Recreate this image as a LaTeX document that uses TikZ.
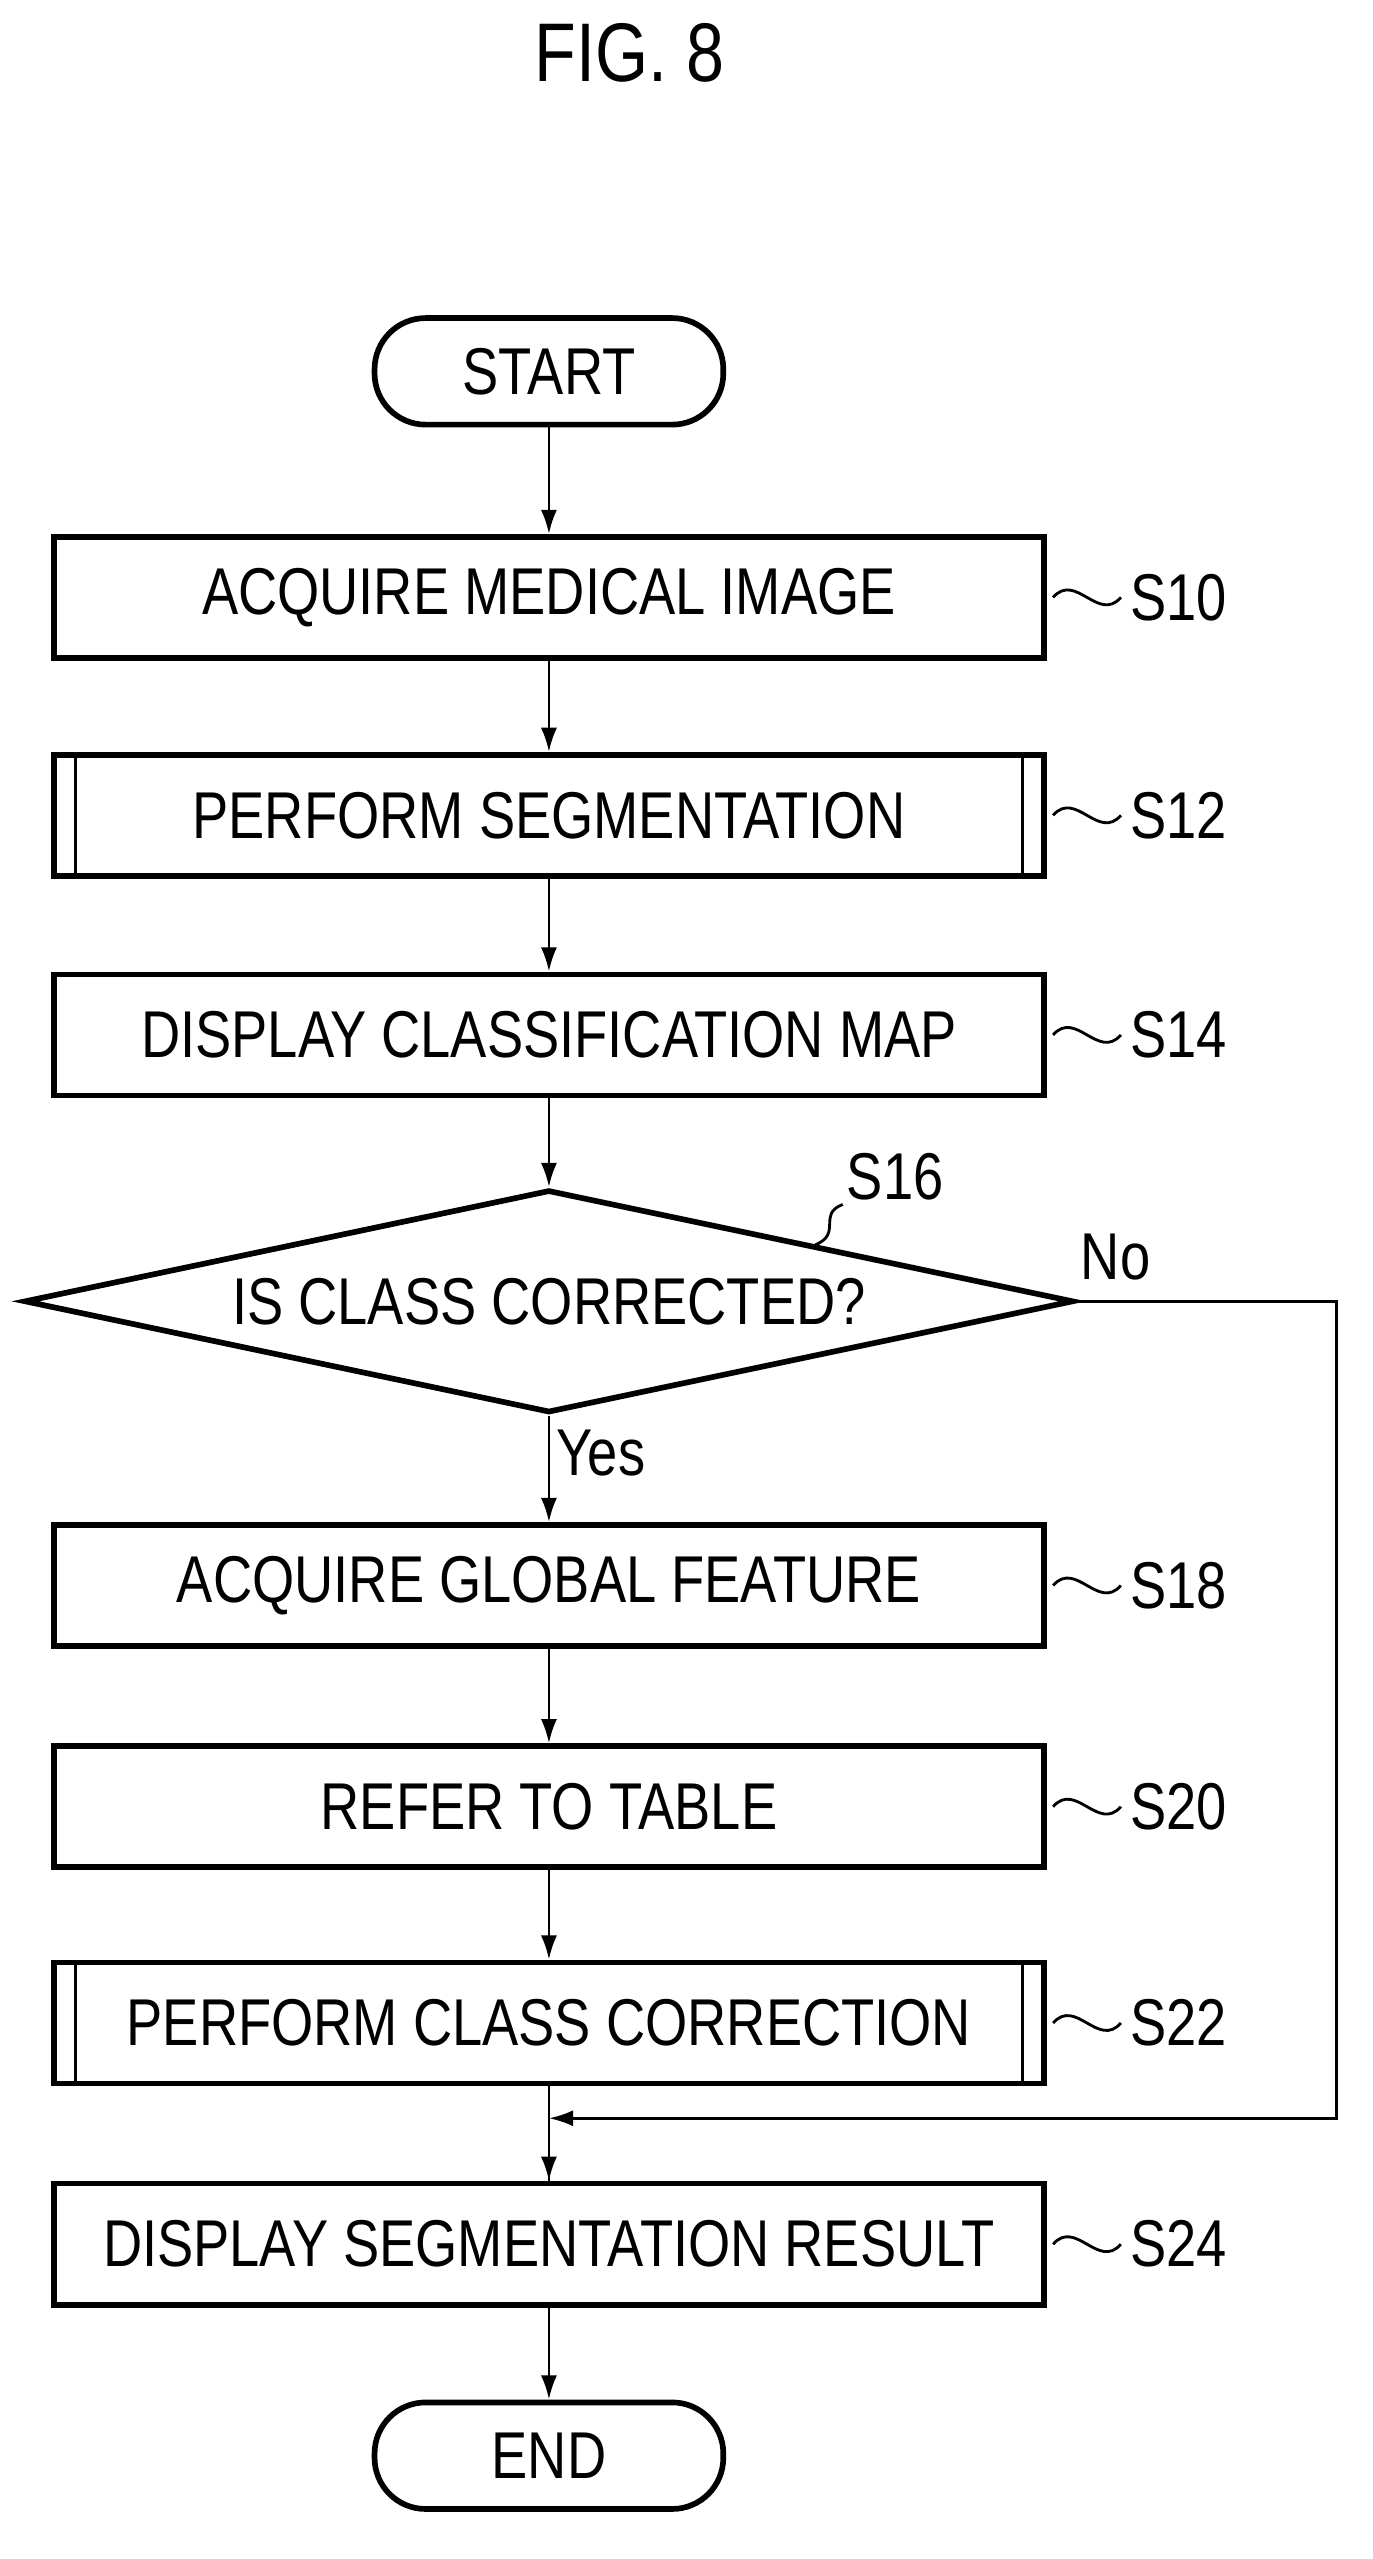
\documentclass[tikz,border=0pt]{standalone}
\usepackage{fontspec}
\setmainfont{Liberation Sans}[FakeStretch=0.82]
\usetikzlibrary{shapes,calc,arrows.meta}
\tikzset{
  box/.style={draw,line width=3pt,minimum width=18.39cm,minimum height=2.25cm,inner sep=0pt},
  term/.style={draw,line width=3pt,rounded corners=0.95cm,minimum width=6.48cm,minimum height=1.98cm},
  flow/.style={line width=1.5pt,-{Latex[length=0.45cm,width=0.3cm]}},
  lbl/.style={font=\fontsize{35}{39}\selectfont}
}
\newcommand{\sqig}[1]{\draw[line width=1.5pt] ($(#1.east)+(4,0)$) .. controls +(14,-16) and +(-14,16) .. ++(42,0) node[right,lbl,inner sep=0.15cm]}
\begin{document}
\begin{tikzpicture}[x=0.03cm,y=-0.03cm,lbl]
\useasboundingbox (0,0) rectangle (850,1585);
%title
\node[font=\fontsize{44}{48}\selectfont] (fig) at (390,33) {FIG. 8};
%steps
\node[term] (start) at (340,230) {START};
\node[box] (s10) at (340,370) {ACQUIRE MEDICAL IMAGE};
\node[box] (s12) at (340,505) {PERFORM SEGMENTATION};
\node[box] (s14) at (340,641) {DISPLAY CLASSIFICATION MAP};
\node[draw,line width=3pt,diamond,aspect=4.7,minimum width=19.5cm,minimum height=4.14cm,inner sep=0pt] (s16) at (340,806) {IS CLASS CORRECTED?};
\node[box] (s18) at (340,982) {ACQUIRE GLOBAL FEATURE};
\node[box] (s20) at (340,1119) {REFER TO TABLE};
\node[box] (s22) at (340,1253) {PERFORM CLASS CORRECTION};
\node[box] (s24) at (340,1390) {DISPLAY SEGMENTATION RESULT};
\node[term] (end) at (340,1521) {END};
%subroutine bars
\foreach \n in {s12,s22}
{
\draw[line width=1.5pt] ($(\n.north west)+(15,0)$)--($(\n.south west)+(15,0)$);
\draw[line width=1.5pt] ($(\n.north east)+(-15,0)$)--($(\n.south east)+(-15,0)$);
}
%step labels
\sqig{s10} {S10};
\sqig{s12} {S12};
\sqig{s14} {S14};
\sqig{s18} {S18};
\sqig{s20} {S20};
\sqig{s22} {S22};
\sqig{s24} {S24};
\draw[line width=1.5pt] (505,771) .. controls (522,764) and (506,752) .. (522,746) node[above right,inner sep=0.05cm] (l16) {S16};
%connectors
\draw[flow] (start)--(s10);
\draw[flow] (s10)--(s12);
\draw[flow] (s12)--(s14);
\draw[flow] (s14)--(s16);
\draw[flow] (s16)--node[right,pos=0.35] (yes) {Yes} (s18);
\draw[flow] (s18)--(s20);
\draw[flow] (s20)--(s22);
\coordinate (join) at (340,1312);
\draw[line width=1.5pt] (s22)--(s24);
\draw[flow] (join)--(s24);
\draw[flow] (s24)--(end);
\draw[flow] (s16.east)--(828,806) node[pos=0.15,above=0.25cm] (no) {No}--(828,1312)--(join);
\end{tikzpicture}
\end{document}
